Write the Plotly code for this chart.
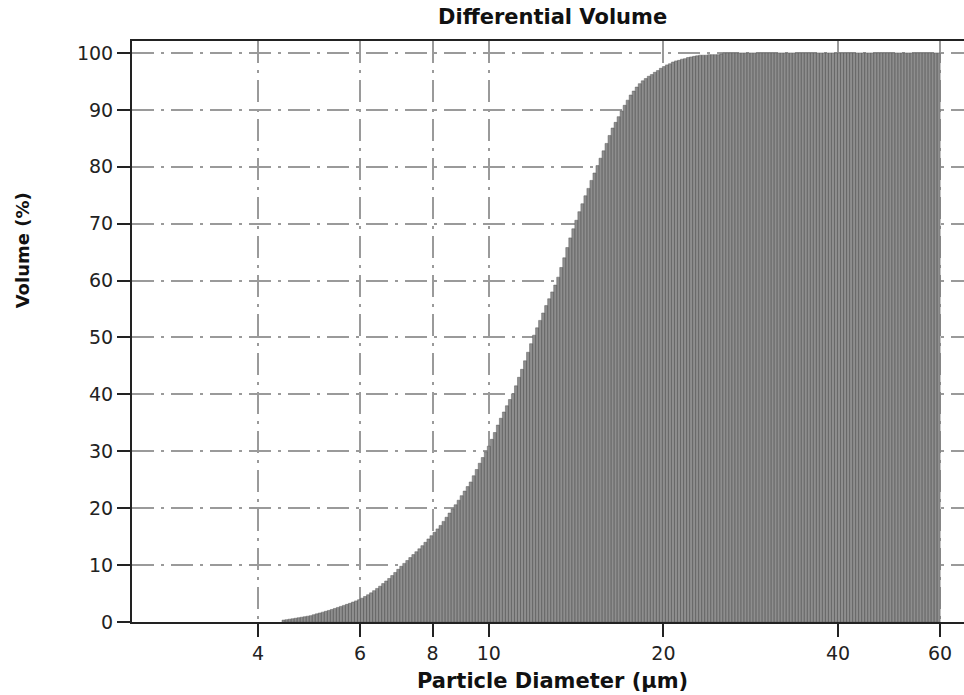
import numpy as np
import plotly.graph_objects as go

# ---- data ----
CHANNEL_MIN_UM = 4.4      # lower edge of first channel
CHANNEL_MAX_UM = 60.0     # upper edge of last channel
N_CHANNELS = 218

volume_pct = [
    0.33, 0.41, 0.49, 0.57, 0.66, 0.75, 0.84, 0.93, 1.02, 1.12,
    1.28, 1.43, 1.58, 1.73, 1.88, 2.03, 2.20, 2.38, 2.56, 2.74,
    2.92, 3.10, 3.28, 3.50, 3.71, 3.92, 4.18, 4.48, 4.79, 5.12,
    5.51, 5.90, 6.29, 6.75, 7.20, 7.65, 8.16, 8.70, 9.26, 9.79,
    10.30, 10.81, 11.32, 11.84, 12.35, 12.86, 13.42, 14.00, 14.59, 15.17,
    15.76, 16.36, 16.97, 17.68, 18.41, 19.14, 19.86, 20.6, 21.4, 22.2,
    23.0, 23.8, 24.6, 25.7, 26.8, 27.9, 28.9, 29.9, 30.9, 32.1,
    33.3, 34.6, 35.8, 36.9, 38.0, 39.1, 40.1, 41.5, 43.0, 44.4,
    45.9, 47.4, 48.9, 50.4, 51.7, 53.0, 54.3, 55.6, 56.8, 58.0,
    59.2, 60.6, 62.3, 64.0, 65.8, 67.5, 69.1, 70.6, 72.1, 73.5,
    74.9, 76.2, 77.6, 78.9, 80.2, 81.5, 82.8, 84.1, 85.5, 86.8,
    87.8, 88.8, 89.8, 90.8, 91.7, 92.6, 93.3, 94.0, 94.6, 95.1,
    95.5, 95.9, 96.2, 96.6, 96.9, 97.3, 97.6, 97.9, 98.1, 98.4,
    98.6, 98.7, 98.9, 99.0, 99.2, 99.3, 99.4, 99.5, 99.6, 99.6,
    99.6, 99.7, 99.7, 99.7, 99.7, 99.8,
] + [100.0] * 72

x_ticks = [4, 6, 8, 10, 20, 40, 60]
y_ticks = [0, 10, 20, 30, 40, 50, 60, 70, 80, 90, 100]

title_text = "Differential Volume"
x_title = "Particle Diameter (µm)"
y_title = "Volume (%)"

# ---- build bar outlines from channel edges ----
edges = np.logspace(np.log10(CHANNEL_MIN_UM), np.log10(CHANNEL_MAX_UM), N_CHANNELS + 1)
bx, by = [], []
for i, v in enumerate(volume_pct):
    l, r = edges[i], edges[i + 1]
    bx += [l, l, r, r, l, None]
    by += [0, v, v, 0, 0, None]

fig = go.Figure()
fig.add_trace(go.Scatter(
    x=bx, y=by, mode="lines", fill="toself",
    fillcolor="#8e8e8e",
    line=dict(color="#5c5c5c", width=0.5),
    hoverinfo="skip", showlegend=False,
))

FONT = "DejaVu Sans"
grid_dash = "22px,7px,3px,7px"

fig.update_layout(
    width=964, height=695,
    margin=dict(l=132, r=0, t=41, b=73),
    paper_bgcolor="white", plot_bgcolor="white",
    font=dict(family=FONT, color="#222222"),
    showlegend=False,
)
fig.update_xaxes(
    type="log",
    range=[0.3848, 1.8193],
    tickvals=x_ticks, ticktext=[str(t) for t in x_ticks],
    ticks="outside", ticklen=13, tickwidth=2, tickcolor="#222222",
    tickfont=dict(size=19, family=FONT, color="#222222"),
    showline=True, linecolor="#222222", linewidth=2, mirror=True,
    showgrid=True, gridcolor="#9a9a9a", gridwidth=1.5, griddash=grid_dash,
    zeroline=False,
)
fig.update_yaxes(
    range=[0, 102.1],
    tickvals=y_ticks,
    ticks="outside", ticklen=13, tickwidth=2, tickcolor="#222222",
    tickfont=dict(size=19, family=FONT, color="#222222"),
    showline=True, linecolor="#222222", linewidth=2,
    showgrid=True, gridcolor="#9a9a9a", gridwidth=1.5, griddash=grid_dash,
    zeroline=False,
)

fig.add_annotation(text=f"<b>{title_text}</b>", xref="paper", yref="paper",
                   x=0.506, y=1.041, xanchor="center", yanchor="middle",
                   showarrow=False, font=dict(size=21, family=FONT, color="#111111"))
fig.add_annotation(text=f"<b>{x_title}</b>", xref="paper", yref="paper",
                   x=0.506, y=-0.1015, xanchor="center", yanchor="middle",
                   showarrow=False, font=dict(size=21, family=FONT, color="#111111"))
fig.add_annotation(text=f"<b>{y_title}</b>", xref="paper", yref="paper",
                   x=-0.132, y=0.640, xanchor="center", yanchor="middle",
                   textangle=-90,
                   showarrow=False, font=dict(size=18, family=FONT, color="#111111"))

fig.write_html("out.html")
